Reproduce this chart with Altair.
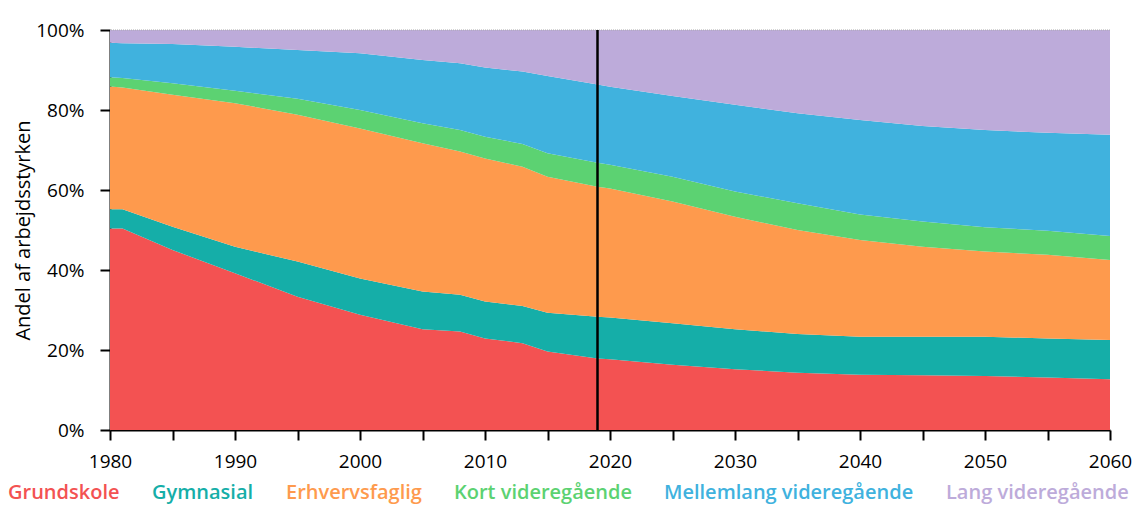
import altair as alt
import pandas as pd

years = [1980, 1981, 1985, 1990, 1995, 2000, 2005, 2008, 2010, 2013, 2015, 2019,
         2020, 2025, 2030, 2035, 2040, 2045, 2050, 2055, 2060]

grundskole = [50.4, 50.4, 45.0, 39.2, 33.3, 28.8, 25.2, 24.6, 22.9, 21.7, 19.6, 17.9,
              17.7, 16.3, 15.2, 14.3, 13.8, 13.7, 13.5, 13.1, 12.7]
gymnasial = [4.8, 4.8, 5.8, 6.6, 8.8, 9.1, 9.4, 9.2, 9.2, 9.3, 9.7, 10.4,
             10.4, 10.4, 10.0, 9.7, 9.5, 9.6, 9.8, 9.8, 9.8]
erhvervsfaglig = [30.7, 30.4, 33.0, 35.9, 36.7, 37.5, 37.1, 35.8, 35.8, 34.8, 34.0, 32.5,
                  32.3, 30.4, 28.1, 26.0, 24.2, 22.5, 21.3, 20.9, 20.0]
kort = [2.3, 2.4, 2.9, 3.1, 4.0, 4.6, 5.0, 5.4, 5.4, 5.7, 5.9, 6.0,
        5.9, 6.2, 6.3, 6.7, 6.4, 6.3, 6.1, 6.0, 6.0]
mellemlang = [8.6, 8.7, 9.8, 11.0, 12.2, 14.2, 15.8, 16.7, 17.3, 18.1, 19.3, 19.6,
              19.5, 20.2, 21.7, 22.5, 23.6, 23.9, 24.3, 24.5, 25.3]
lang = [3.2, 3.3, 3.5, 4.2, 5.0, 5.8, 7.5, 8.3, 9.4, 10.4, 11.5, 13.6,
        14.2, 16.5, 18.7, 20.8, 22.5, 24.0, 25.0, 25.7, 26.2]

categories = ["Grundskole", "Gymnasial", "Erhvervsfaglig", "Kort videregående",
              "Mellemlang videregående", "Lang videregående"]
colors = ["#F35252", "#15AEA8", "#FE9A4D", "#5CD272", "#40B2DE", "#BDABDA"]
series = [grundskole, gymnasial, erhvervsfaglig, kort, mellemlang, lang]

x_ticks = list(range(1980, 2061, 5))
y_ticks = [0, 0.2, 0.4, 0.6, 0.8, 1.0]
marker_year = [2019]

rows = []
for ci, (cat, vals) in enumerate(zip(categories, series)):
    for yr, v in zip(years, vals):
        rows.append({"year": yr, "category": cat, "value": v, "order": ci})
df = pd.DataFrame(rows)

FONT = "Open Sans"

area = alt.Chart(df).mark_area(interpolate="linear").encode(
    x=alt.X("year:Q",
            scale=alt.Scale(domain=[1980, 2060], nice=False, zero=False),
            axis=alt.Axis(values=x_ticks, labelExpr="datum.value % 10 == 0 ? datum.value : ''",
                          title=None, grid=False, domainColor="black", domainWidth=2,
                          tickColor="black", tickWidth=2, tickSize=10, labelFlush=False,
                          labelFontSize=19, labelColor="black", labelPadding=12,
                          labelFont=FONT)),
    y=alt.Y("value:Q", stack="normalize",
            scale=alt.Scale(domain=[0, 1], nice=False),
            axis=alt.Axis(values=y_ticks, format=".0%", title="Andel af arbejdsstyrken",
                          grid=False, domainColor="black", domainWidth=2,
                          tickColor="black", tickWidth=2, tickSize=10, labelFlush=False,
                          labelFontSize=19, labelColor="black", labelPadding=16,
                          labelFont=FONT, titleFont=FONT, titleFontSize=20,
                          titleFontWeight="normal", titleColor="black", titlePadding=2)),
    color=alt.Color("category:N",
                    scale=alt.Scale(domain=categories, range=colors),
                    legend=alt.Legend(title=None, orient="none", direction="horizontal",
                                      legendX=-122, legendY=453,
                                      symbolSize=0, symbolOpacity=0, symbolStrokeWidth=0,
                                      labelOffset=0, columnPadding=12,
                                      labelFont=FONT, labelFontSize=20, labelFontWeight=600,
                                      labelColor=alt.ExprRef("scale('color', datum.value)"),
                                      labelLimit=400)),
    order=alt.Order("order:Q", sort="ascending"),
)

top_df = pd.DataFrame({"y": [1.0]})
top_rule = alt.Chart(top_df).mark_rule(color="#aaaaaa", strokeDash=[1, 1], strokeWidth=1).encode(
    y=alt.Y("y:Q", scale=alt.Scale(domain=[0, 1]))
)

vline = alt.Chart(pd.DataFrame({"year": marker_year})).mark_rule(color="black", strokeWidth=2.5).encode(
    x="year:Q"
)

chart = alt.layer(area, top_rule, vline).properties(
    width=1000, height=400,
    autosize=alt.AutoSizeParams(type="none"),
    padding={"left": 102, "top": 22, "right": 28, "bottom": 78},
).configure_view(stroke=None)

chart.save("out.html", embed_options={"renderer": "svg", "actions": False})
